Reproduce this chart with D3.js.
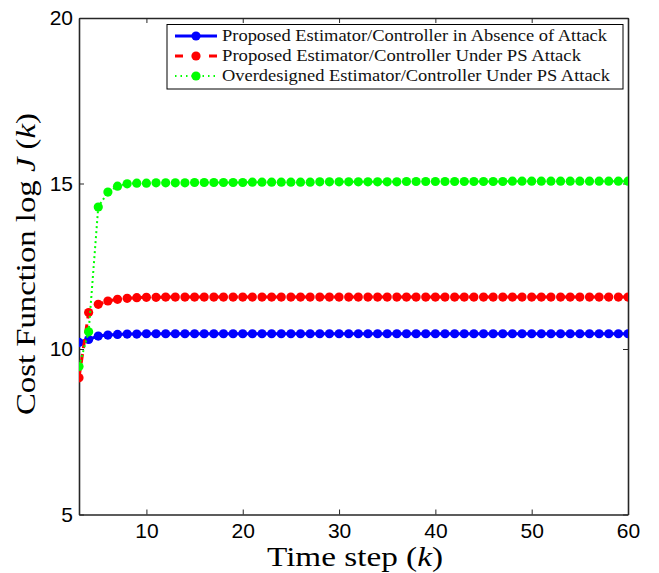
<!DOCTYPE html>
<html>
<head>
<meta charset="utf-8">
<script src="https://cdn.jsdelivr.net/npm/d3@7"></script>
<style>
  body { margin: 0; background: #fff; }
  svg { display: block; }
</style>
</head>
<body>
<svg id="chart"></svg>
<script>
var svgWidth = 659, svgHeight = 573;

// time steps 3..60
var steps = d3.range(3, 61);

var xTicks = [10, 20, 30, 40, 50, 60];
var yTicks = [5, 10, 15, 20];

var seriesNames = [
  "Proposed Estimator/Controller in Absence of Attack",
  "Proposed Estimator/Controller Under PS Attack",
  "Overdesigned Estimator/Controller Under PS Attack"
];

// values, k = 3..60
var blueVals = [10.20, 10.29, 10.39, 10.42, 10.44, 10.45, 10.45, 10.46, 10.46, 10.46,
  10.46, 10.46, 10.46, 10.46, 10.46, 10.46, 10.46, 10.46, 10.46, 10.46,
  10.46, 10.46, 10.46, 10.46, 10.46, 10.46, 10.46, 10.46, 10.46, 10.46,
  10.46, 10.46, 10.46, 10.46, 10.46, 10.46, 10.46, 10.46, 10.46, 10.46,
  10.46, 10.46, 10.46, 10.46, 10.46, 10.46, 10.46, 10.46, 10.46, 10.46,
  10.46, 10.46, 10.46, 10.46, 10.46, 10.46, 10.46, 10.46];

var redVals = [9.13, 11.10, 11.35, 11.45, 11.50, 11.53, 11.55, 11.56, 11.56, 11.57,
  11.57, 11.57, 11.57, 11.57, 11.57, 11.57, 11.57, 11.57, 11.57, 11.57,
  11.57, 11.57, 11.57, 11.57, 11.57, 11.57, 11.57, 11.57, 11.57, 11.57,
  11.57, 11.57, 11.57, 11.57, 11.57, 11.57, 11.57, 11.57, 11.57, 11.57,
  11.57, 11.57, 11.57, 11.57, 11.57, 11.57, 11.57, 11.57, 11.57, 11.57,
  11.57, 11.57, 11.57, 11.57, 11.57, 11.57, 11.57, 11.57];

var greenVals = [9.47, 10.52, 14.29, 14.74, 14.92, 14.99, 15.01, 15.01, 15.02, 15.02,
  15.02, 15.02, 15.03, 15.03, 15.03, 15.03, 15.03, 15.03, 15.04, 15.04,
  15.04, 15.04, 15.04, 15.04, 15.04, 15.05, 15.05, 15.05, 15.05, 15.05,
  15.05, 15.05, 15.05, 15.05, 15.06, 15.06, 15.06, 15.06, 15.06, 15.06,
  15.06, 15.06, 15.06, 15.06, 15.06, 15.07, 15.07, 15.07, 15.07, 15.07,
  15.07, 15.07, 15.07, 15.07, 15.07, 15.07, 15.07, 15.07];

// plot box (note: "top" is reserved on window, so use other names)
var pLeft = 79, pRight = 628, pTop = 18, pBottom = 514.5;

var x = d3.scaleLinear().domain([3, 60]).range([pLeft, pRight]);
var y = d3.scaleLinear().domain([5, 20]).range([pBottom, pTop]);

var serif = "'Liberation Serif', 'Times New Roman', serif";

var svg = d3.select("#chart")
    .attr("width", svgWidth)
    .attr("height", svgHeight);

svg.append("defs").append("clipPath").attr("id", "plotclip")
  .append("rect")
    .attr("x", pLeft).attr("y", pTop)
    .attr("width", pRight - pLeft).attr("height", pBottom - pTop);

// axes: ticks inside, on all four sides like matlab box
var tickLen = 5;
svg.append("g")
    .attr("transform", "translate(0," + pBottom + ")")
    .call(d3.axisBottom(x).tickValues(xTicks).tickSizeInner(-tickLen).tickSizeOuter(0).tickPadding(9))
    .call(styleAxis);
svg.append("g")
    .attr("transform", "translate(0," + pTop + ")")
    .call(d3.axisTop(x).tickValues(xTicks).tickSizeInner(-tickLen).tickSizeOuter(0).tickFormat(""))
    .call(styleAxis);
svg.append("g")
    .attr("transform", "translate(" + pLeft + ",0)")
    .call(d3.axisLeft(y).tickValues(yTicks).tickSizeInner(-tickLen).tickSizeOuter(0).tickPadding(6))
    .call(styleAxis);
svg.append("g")
    .attr("transform", "translate(" + pRight + ",0)")
    .call(d3.axisRight(y).tickValues(yTicks).tickSizeInner(-tickLen).tickSizeOuter(0).tickFormat(""))
    .call(styleAxis);

function styleAxis(g) {
  g.select(".domain").attr("stroke", "#262626").attr("stroke-width", 1.6);
  g.selectAll(".tick line").attr("stroke", "#262626").attr("stroke-width", 1);
  g.selectAll(".tick text")
    .attr("fill", "#000")
    .style("font-family", "'Liberation Sans', Arial, sans-serif")
    .style("font-size", "21px");
}

var series = [
  { vals: blueVals, color: "#0000ff", width: 3, dash: null, legDash: null },
  { vals: redVals, color: "#ff0000", width: 3, dash: "9,6", legDash: "8,9" },
  { vals: greenVals, color: "#00ff00", width: 2, dash: "2,3", legDash: "1.5,4" }
];

var line = d3.line()
    .x((d, i) => x(steps[i]))
    .y(d => y(d));

var plot = svg.append("g").attr("clip-path", "url(#plotclip)");

series.forEach(function(s) {
  plot.append("path")
      .attr("d", line(s.vals))
      .attr("fill", "none")
      .attr("stroke", s.color)
      .attr("stroke-width", s.width)
      .attr("stroke-dasharray", s.dash);
  plot.selectAll(null)
      .data(s.vals)
      .enter()
      .append("circle")
      .attr("cx", (d, i) => x(steps[i]))
      .attr("cy", d => y(d))
      .attr("r", 4.6)
      .attr("fill", s.color);
});

// legend
var legend = svg.append("g");
legend.append("rect")
    .attr("x", 167).attr("y", 24.5)
    .attr("width", 456).attr("height", 64.5)
    .attr("fill", "#fff")
    .attr("stroke", "#000")
    .attr("stroke-width", 1);

var rowY = [36, 56, 76];
var rowLen = [385, 359, 388];
series.forEach(function(s, i) {
  legend.append("line")
      .attr("x1", 175).attr("x2", 217)
      .attr("y1", rowY[i]).attr("y2", rowY[i])
      .attr("stroke", s.color)
      .attr("stroke-width", s.width)
      .attr("stroke-dasharray", s.legDash);
  legend.append("circle")
      .attr("cx", 196).attr("cy", rowY[i])
      .attr("r", 4.6)
      .attr("fill", s.color);
  legend.append("text")
      .attr("x", 222).attr("y", rowY[i] + 5)
      .attr("textLength", rowLen[i])
      .attr("lengthAdjust", "spacingAndGlyphs")
      .attr("fill", "#111")
      .style("font-family", serif)
      .style("font-size", "16.5px")
      .text(seriesNames[i]);
});

// axis labels
var xl = svg.append("text")
    .attr("x", 267).attr("y", 566)
    .attr("textLength", 176)
    .attr("lengthAdjust", "spacingAndGlyphs")
    .style("font-family", serif)
    .style("font-size", "28px");
xl.append("tspan").text("Time step (");
xl.append("tspan").style("font-style", "italic").text("k");
xl.append("tspan").text(")");

var yl = svg.append("text")
    .attr("transform", "translate(35,415) rotate(-90)")
    .attr("textLength", 302)
    .attr("lengthAdjust", "spacingAndGlyphs")
    .style("font-family", serif)
    .style("font-size", "28px");
yl.append("tspan").text("Cost Function log ");
yl.append("tspan").style("font-style", "italic").text("J");
yl.append("tspan").text(" (");
yl.append("tspan").style("font-style", "italic").text("k");
yl.append("tspan").text(")");
</script>
</body>
</html>
